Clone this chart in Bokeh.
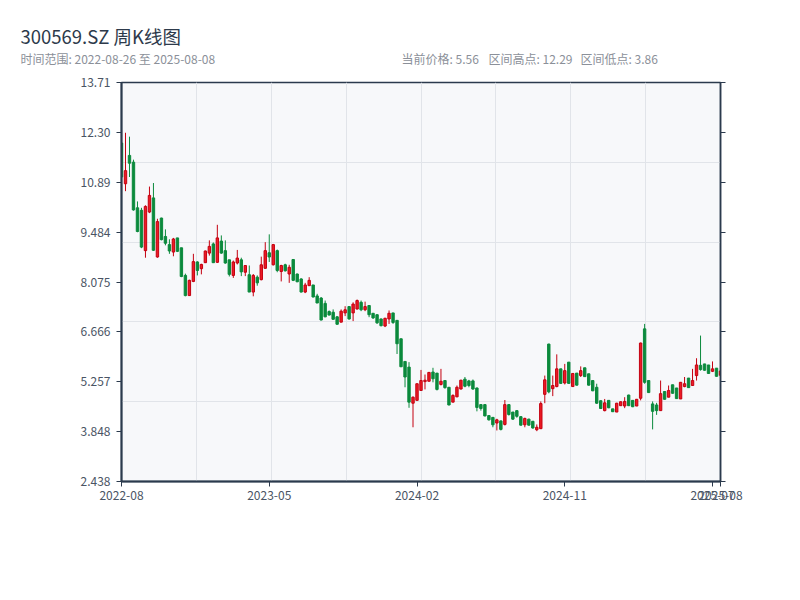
import pandas as pd
from bokeh.plotting import figure
from bokeh.layouts import column
from bokeh.models import (ColumnDataSource, Range1d, FixedTicker, LinearAxis, Label,
                          CustomJSTickFormatter)
from bokeh.embed import file_html
from bokeh.resources import INLINE

# ---------------- data ----------------
title_text = "300569.SZ 周K线图"
subtitle_left = "时间范围: 2022-08-26 至 2025-08-08"
info_texts = ["当前价格: 5.56", "区间高点: 12.29", "区间低点: 3.86"]

start_date = "2022-08-26"
end_date = "2025-08-08"
missing_weeks = ["2022-10-07", "2023-01-27", "2023-10-06", "2024-02-16"]

opens = [12.00, 10.85, 11.65, 11.46, 10.17, 10.10, 8.96, 10.05, 10.45, 8.78,
         9.88, 9.36, 9.13, 8.92, 9.32, 9.04, 8.26, 7.69, 8.09, 8.64,
         8.45, 8.62, 8.89, 9.15, 8.63, 9.23, 8.96, 8.70, 8.26, 8.61,
         8.70, 8.35, 8.28, 7.79, 8.21, 8.14, 8.46, 8.90, 8.56, 8.96,
         8.37, 8.56, 8.30, 8.71, 8.30, 8.16, 7.79, 7.97, 7.99, 7.68,
         7.62, 7.47, 7.24, 7.22, 7.09, 6.94, 7.20, 7.38, 7.20, 7.31,
         7.50, 7.29, 7.41, 7.19, 7.15, 7.03, 6.83, 7.03, 7.20, 6.99,
         6.47, 5.83, 5.67, 4.65, 4.73, 5.01, 5.26, 5.27, 5.53, 5.50,
         5.18, 5.29, 5.10, 4.68, 4.83, 5.05, 5.33, 5.28, 5.28, 5.08,
         4.61, 4.61, 4.30, 4.25, 4.09, 4.15, 4.05, 4.61, 4.40, 4.44,
         4.27, 4.04, 4.20, 4.14, 3.90, 3.93, 4.90, 6.32, 5.06, 5.12,
         5.62, 5.22, 5.81, 5.12, 5.50, 5.43, 5.65, 5.48, 5.29, 5.10,
         4.72, 4.44, 4.73, 4.49, 4.40, 4.58, 4.57, 4.88, 4.73, 4.57,
         4.79, 6.75, 5.29, 4.63, 4.60, 4.44, 4.98, 4.82, 5.17, 5.08,
         4.77, 5.12, 5.36, 5.15, 5.43, 5.72, 5.76, 5.73, 5.55, 5.64,
         5.44]
highs = [12.07, 12.29, 12.18, 11.53, 10.35, 10.17, 10.24, 10.77, 10.87, 9.86,
         9.89, 9.56, 9.28, 9.32, 9.32, 9.04, 8.31, 8.14, 8.87, 8.66,
         8.59, 8.96, 9.25, 9.19, 9.69, 9.39, 9.25, 8.70, 8.68, 8.98,
         8.76, 8.54, 8.54, 8.30, 8.26, 8.79, 9.20, 9.42, 9.15, 8.99,
         8.56, 8.59, 8.56, 8.71, 8.31, 8.18, 8.05, 8.21, 7.99, 7.74,
         7.65, 7.55, 7.27, 7.30, 7.11, 7.30, 7.39, 7.39, 7.50, 7.58,
         7.55, 7.52, 7.41, 7.19, 7.16, 7.04, 7.06, 7.27, 7.20, 6.99,
         6.47, 5.83, 5.81, 4.84, 5.20, 5.59, 5.46, 5.53, 5.65, 5.50,
         5.62, 5.30, 5.10, 4.90, 5.15, 5.31, 5.39, 5.31, 5.32, 5.09,
         4.62, 4.62, 4.30, 4.26, 4.21, 4.16, 4.74, 4.62, 4.40, 4.45,
         4.28, 4.24, 4.21, 4.14, 4.05, 4.70, 5.43, 6.33, 5.43, 6.03,
         5.62, 5.76, 5.81, 5.50, 5.50, 5.69, 5.65, 5.48, 5.29, 5.20,
         4.73, 4.77, 4.73, 4.49, 4.66, 4.70, 4.82, 4.89, 4.73, 4.77,
         6.36, 6.89, 5.29, 4.70, 4.66, 5.29, 4.98, 5.15, 5.17, 5.08,
         5.25, 5.39, 5.36, 5.62, 5.92, 6.56, 5.76, 5.73, 5.83, 5.64,
         5.67]
lows = [10.99, 10.64, 11.04, 10.09, 9.48, 9.03, 8.76, 10.02, 8.95, 8.76,
        9.25, 9.11, 8.87, 8.80, 8.92, 8.21, 7.67, 7.69, 8.07, 8.26,
        8.29, 8.61, 8.82, 8.61, 8.61, 8.87, 8.59, 8.23, 8.19, 8.57,
        8.24, 8.24, 7.79, 7.67, 7.97, 8.12, 8.45, 8.64, 8.54, 8.35,
        8.09, 8.37, 8.05, 8.10, 8.07, 7.78, 7.76, 7.97, 7.64, 7.48,
        6.99, 7.08, 7.13, 7.01, 6.87, 6.94, 7.11, 7.01, 6.97, 7.30,
        7.25, 7.25, 7.08, 7.03, 6.89, 6.82, 6.80, 6.89, 6.89, 6.04,
        5.67, 5.10, 4.52, 3.97, 4.73, 5.01, 5.04, 5.27, 5.24, 5.01,
        5.15, 5.06, 4.59, 4.68, 4.82, 5.04, 5.10, 5.10, 5.03, 4.42,
        4.44, 4.28, 4.16, 3.97, 3.88, 3.88, 4.02, 4.30, 4.18, 4.24,
        4.02, 3.97, 4.02, 3.93, 3.86, 3.92, 4.65, 4.93, 4.85, 5.10,
        5.20, 5.18, 5.20, 5.12, 5.15, 5.39, 5.39, 5.15, 4.99, 4.63,
        4.49, 4.42, 4.51, 4.40, 4.40, 4.58, 4.51, 4.57, 4.54, 4.57,
        4.73, 5.20, 4.94, 3.91, 4.32, 4.44, 4.75, 4.82, 4.92, 4.77,
        4.77, 5.10, 5.08, 5.15, 5.29, 5.57, 5.57, 5.48, 5.53, 5.40,
        5.39]
closes = [11.04, 11.22, 11.43, 10.11, 9.50, 9.06, 10.21, 10.52, 8.97, 9.78,
          9.27, 9.17, 8.95, 9.29, 8.94, 8.23, 7.69, 8.12, 8.65, 8.40,
          8.57, 8.95, 9.08, 8.62, 9.32, 8.89, 8.61, 8.29, 8.64, 8.75,
          8.36, 8.54, 7.79, 8.26, 8.05, 8.56, 8.96, 8.78, 9.13, 8.40,
          8.54, 8.39, 8.49, 8.12, 8.08, 7.79, 7.99, 8.12, 7.65, 7.48,
          7.00, 7.09, 7.14, 7.02, 6.88, 7.25, 7.29, 7.03, 7.45, 7.55,
          7.29, 7.38, 7.15, 7.06, 6.92, 6.84, 7.05, 7.19, 6.93, 6.33,
          5.68, 5.39, 4.68, 4.82, 5.20, 5.29, 5.30, 5.52, 5.34, 5.04,
          5.27, 5.09, 4.60, 4.87, 5.10, 5.30, 5.13, 5.15, 5.05, 4.53,
          4.50, 4.29, 4.18, 4.04, 4.18, 3.91, 4.61, 4.33, 4.20, 4.28,
          4.03, 4.22, 4.03, 3.95, 3.97, 4.64, 5.31, 4.97, 5.15, 5.62,
          5.21, 5.57, 5.21, 5.49, 5.16, 5.57, 5.40, 5.16, 5.00, 4.65,
          4.50, 4.66, 4.52, 4.41, 4.65, 4.69, 4.70, 4.58, 4.55, 4.76,
          6.35, 5.24, 4.95, 4.42, 4.44, 4.92, 4.76, 5.01, 4.93, 4.78,
          5.24, 5.20, 5.09, 5.29, 5.73, 5.60, 5.58, 5.49, 5.62, 5.41,
          5.56]

y_tick_labels = ["2.438", "3.848", "5.257", "6.666", "8.075", "9.484", "10.89", "12.30", "13.71"]
y_min, y_max = 2.438, 13.71
x_label_interval = 37

# ---------------- derived ----------------
dates = pd.date_range(start_date, end_date, freq="7D")
dates = [d for d in dates if d.strftime("%Y-%m-%d") not in missing_weeks]
date_labels = [d.strftime("%Y-%m") for d in dates]
N = len(opens)
xs = list(range(N))

UP_FILL, UP_LINE = "#ec1b24", "#c40010"
DN_FILL, DN_LINE = "#0b8a3c", "#0b8a3c"
up = [c >= o for o, c in zip(opens, closes)]
src = ColumnDataSource(dict(
    x=xs, open=opens, close=closes, high=highs, low=lows,
    top=[max(o, c) for o, c in zip(opens, closes)],
    bottom=[min(o, c) for o, c in zip(opens, closes)],
    fill=[UP_FILL if u else DN_FILL for u in up],
    line=[UP_LINE if u else DN_LINE for u in up],
))

AXIS = "#2b3a4d"
TXT = "#4a5464"
FONT = "Noto Sans CJK SC"
W = 792
HEAD_H = 70

# ---------------- header (title texts) ----------------
head = figure(width=W, height=HEAD_H, output_backend="svg", toolbar_location=None,
              title=None, x_range=Range1d(0, W), y_range=Range1d(0, HEAD_H),
              min_border=0)
head.axis.visible = False
head.grid.visible = False
head.outline_line_color = None
head.background_fill_color = "white"
head.border_fill_color = "white"
head.add_layout(Label(x=20, y=HEAD_H - 35, text=title_text, text_font=FONT,
                      text_font_size="18.5px", text_color="#2d3a4b", text_baseline="middle"))
head.add_layout(Label(x=20, y=HEAD_H - 58, text=subtitle_left, text_font=FONT,
                      text_font_size="12px", text_color="#8b9099", text_baseline="middle"))
for tx, t in zip([401, 488, 580], info_texts):
    head.add_layout(Label(x=tx, y=HEAD_H - 58, text=t, text_font=FONT,
                          text_font_size="12px", text_color="#8b9099", text_baseline="middle"))

# ---------------- main chart ----------------
p = figure(width=W, height=500, output_backend="svg", toolbar_location=None,
           title=None, x_range=Range1d(0, N - 1), y_range=Range1d(y_min, y_max),
           min_border_left=121, min_border_top=82 - HEAD_H,
           min_border_right=W - 121 - 599, min_border_bottom=500 - (82 - HEAD_H) - 399)
p.background_fill_color = "#f7f8fa"
p.border_fill_color = "white"
p.outline_line_color = AXIS
p.outline_line_width = 1.5

for f in (head, p):
    if "frame_align" in f.properties():
        f.frame_align = False

# background split grid (8 x 5)
p.xgrid.ticker = FixedTicker(ticks=[k * (N - 1) / 8 for k in range(1, 8)])
p.ygrid.ticker = FixedTicker(ticks=[y_max - k * (y_max - y_min) / 5 for k in range(1, 5)])
p.grid.grid_line_color = "#e1e4e9"
p.grid.grid_line_width = 1

# candles
p.segment(x0="x", y0="high", x1="x", y1="low", line_color="line", line_width=1, source=src)
p.vbar(x="x", width=0.6, top="top", bottom="bottom", fill_color="fill",
       line_color="line", line_width=1, source=src)

# x axis
x_ticks = list(range(0, N, x_label_interval))
if x_ticks[-1] != N - 1:
    x_ticks.append(N - 1)
p.xaxis.ticker = FixedTicker(ticks=x_ticks)
p.xaxis.formatter = CustomJSTickFormatter(args=dict(labels=date_labels),
                                          code="return labels[Math.round(tick)] || '';")
# y axis
step = (y_max - y_min) / (len(y_tick_labels) - 1)
p.yaxis.ticker = FixedTicker(ticks=[y_min + k * step for k in range(len(y_tick_labels))])
p.yaxis.formatter = CustomJSTickFormatter(args=dict(labels=y_tick_labels, lo=y_min, step=step),
                                          code="return labels[Math.round((tick - lo) / step)];")
for ax in (p.xaxis[0], p.yaxis[0]):
    ax.axis_line_color = AXIS
    ax.axis_line_width = 2
    ax.major_tick_line_color = AXIS
    ax.major_tick_line_width = 1
    ax.major_tick_out = 5
    ax.major_tick_in = 0
    ax.minor_tick_line_color = None
    ax.major_label_text_color = TXT
    ax.major_label_text_font = FONT
    ax.major_label_text_font_size = "12px"
p.xaxis.major_label_standoff = 4
p.yaxis.major_label_standoff = 6

# right axis (ticks only)
p.extra_y_ranges = {"r": Range1d(0, 8)}
rax = LinearAxis(y_range_name="r", ticker=FixedTicker(ticks=list(range(9))),
                 formatter=CustomJSTickFormatter(code="return '';"))
rax.axis_line_color = AXIS
rax.axis_line_width = 1.5
rax.major_tick_line_color = AXIS
rax.major_tick_out = 5
rax.major_tick_in = 0
rax.minor_tick_line_color = None
rax.major_label_text_font_size = "1px"
p.add_layout(rax, "right")

layout = column(head, p, spacing=0)
open("out.html", "w").write(file_html(layout, INLINE))
